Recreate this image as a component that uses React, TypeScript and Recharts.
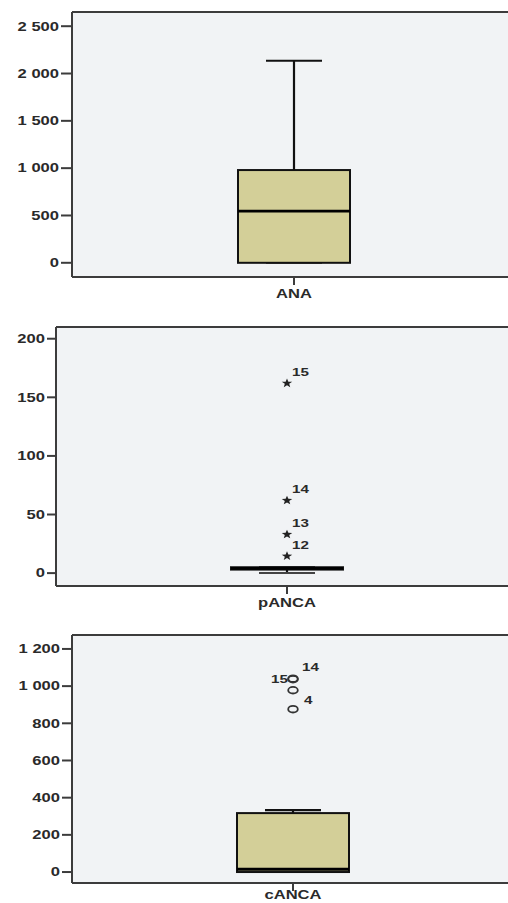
import React from "react";
import { Bar, CartesianGrid, ComposedChart, ReferenceLine, Scatter, XAxis, YAxis } from "recharts";

// box statistics (whisker low, Q1, median, Q3, whisker high)
const anaBox = [{ name: "ANA", lo: 0, q1: 0, med: 547, q3: 980, hi: 2135 }];
const anaOutliers: { name: string; v: number; id: string }[] = [];
const anaTicks = [0, 500, 1000, 1500, 2000, 2500];

const pancaBox = [{ name: "pANCA", lo: 0, q1: 3, med: 4, q3: 5, hi: 5 }];
const pancaOutliers = [
  { name: "pANCA", v: 162, id: "15" },
  { name: "pANCA", v: 62, id: "14" },
  { name: "pANCA", v: 33, id: "13" },
  { name: "pANCA", v: 14.5, id: "12" },
];
const pancaTicks = [0, 50, 100, 150, 200];

const cancaBox = [{ name: "cANCA", lo: 0, q1: 0, med: 15, q3: 317, hi: 333 }];
const cancaOutliers = [
  { name: "cANCA", v: 1040, id: "14" },
  { name: "cANCA", v: 1037, id: "15" },
  { name: "cANCA", v: 978, id: "" },
  { name: "cANCA", v: 876, id: "4" },
];
const cancaTicks = [0, 200, 400, 600, 800, 1000, 1200];

const FONT = "'Liberation Sans', Arial, sans-serif";
const TXT = "#2a2a2a";
const AXIS = "#3c3c3c";
const STRETCH = 1.38;

const fmt = (v: number) => String(v).replace(/\B(?=(\d{3})+(?!\d))/g, " ");

function YTick({ x, y, payload }: any) {
  return (
    <text transform={`translate(${x},${y}) scale(${STRETCH},1)`} textAnchor="end" dy="0.36em" fontFamily={FONT} fontWeight="bold" fontSize={12} fill={TXT}>
      {fmt(payload.value)}
    </text>
  );
}

// y here is the axis tick end; baseline placed `base` px below it
function XTick({ x, y, payload, base }: any) {
  return (
    <text transform={`translate(${x},${y + base}) scale(${STRETCH},1)`} textAnchor="middle" fontFamily={FONT} fontWeight="bold" fontSize={12} fill={TXT}>
      {payload.value}
    </text>
  );
}

function BoxShape(props: any) {
  const { x, y, width, height, payload } = props;
  const { lo, q1, med, q3, hi } = payload;
  const top = Math.min(y, y + height);
  const h = Math.abs(height);
  const py = (v: number) => top + ((hi - v) / (hi - lo)) * h;
  const cx = x + width / 2;
  const cap = width / 4;
  return (
    <g>
      <line x1={cx} x2={cx} y1={py(hi)} y2={py(q3)} stroke="#111" strokeWidth={2.2} />
      <line x1={cx} x2={cx} y1={py(q1)} y2={py(lo)} stroke="#111" strokeWidth={2.2} />
      <line x1={cx - cap} x2={cx + cap} y1={py(hi)} y2={py(hi)} stroke="#111" strokeWidth={2.2} />
      <line x1={cx - cap} x2={cx + cap} y1={py(lo)} y2={py(lo)} stroke="#444" strokeWidth={2} />
      <rect x={x} y={py(q3)} width={width} height={Math.max(py(q1) - py(q3), 0.5)} fill="#d3cf98" stroke="#111" strokeWidth={2} />
      <line x1={x} x2={x + width} y1={py(med)} y2={py(med)} stroke="#000" strokeWidth={2.8} />
    </g>
  );
}

const labelPlace: Record<string, { dx: number; dy: number; anchor: string }> = {
  star: { dx: 5, dy: -7, anchor: "start" },
  "14": { dx: 9, dy: -8, anchor: "start" },
  "15": { dx: -5, dy: 4, anchor: "end" },
  "4": { dx: 11, dy: -5, anchor: "start" },
};

function starPath(cx: number, cy: number, r: number, ri: number) {
  let d = "";
  for (let i = 0; i < 10; i++) {
    const a = -Math.PI / 2 + (i * Math.PI) / 5;
    const rr = i % 2 === 0 ? r : ri;
    d += `${i === 0 ? "M" : "L"}${cx + rr * Math.cos(a) * 1.15},${cy + rr * Math.sin(a)}`;
  }
  return d + "Z";
}

function Label({ px, py, text, anchor }: { px: number; py: number; text: string; anchor: string }) {
  return (
    <text transform={`translate(${px},${py}) scale(${STRETCH},1)`} textAnchor={anchor} fontFamily={FONT} fontWeight="bold" fontSize={11} fill={TXT}>
      {text}
    </text>
  );
}

function StarShape({ cx, cy, payload }: any) {
  const p = labelPlace.star;
  return (
    <g>
      <path d={starPath(cx, cy, 4.8, 2)} fill="#222" />
      {payload.id && <Label px={cx + p.dx} py={cy + p.dy} text={payload.id} anchor={p.anchor} />}
    </g>
  );
}

function CircleShape({ cx, cy, payload }: any) {
  const p = labelPlace[payload.id];
  return (
    <g>
      <ellipse cx={cx} cy={cy} rx={4.8} ry={3.3} fill="none" stroke="#333" strokeWidth={1.8} />
      {payload.id && p && <Label px={cx + p.dx} py={cy + p.dy} text={payload.id} anchor={p.anchor} />}
    </g>
  );
}

type PanelProps = {
  top: number;
  height: number;
  margin: { top: number; right: number; left: number; bottom: number };
  yWidth: number;
  tickSize: number;
  labelBase: number;
  domain: [number, number];
  ticks: number[];
  box: any[];
  outliers: any[];
  shape: any;
};

function Panel({ top, height, margin, yWidth, tickSize, labelBase, domain, ticks, box, outliers, shape }: PanelProps) {
  return (
    <div style={{ position: "absolute", left: 0, top }}>
      <ComposedChart width={560} height={height} data={box} margin={margin}>
        <CartesianGrid fill="#f1f3f5" stroke="none" />
        <XAxis dataKey="name" type="category" allowDuplicatedCategory={false} height={30} tickSize={8} tickMargin={0} tickLine={{ stroke: AXIS, strokeWidth: 2 }} axisLine={{ stroke: AXIS, strokeWidth: 2 }} tick={<XTick base={labelBase} />} />
        <YAxis type="number" domain={domain} ticks={ticks} allowDataOverflow width={yWidth} tickSize={tickSize} tickMargin={2} tickLine={{ stroke: AXIS, strokeWidth: 2 }} axisLine={{ stroke: AXIS, strokeWidth: 2 }} tick={<YTick />} />
        <ReferenceLine y={domain[1]} stroke={AXIS} strokeWidth={2} />
        <Bar dataKey={(d: any) => [d.lo, d.hi]} barSize={112} shape={<BoxShape />} isAnimationActive={false} />
        <Scatter data={outliers} dataKey="v" shape={shape} isAnimationActive={false} />
      </ComposedChart>
    </div>
  );
}

export default function App() {
  return (
    <div style={{ position: "fixed", left: 0, top: 0, width: 508, height: 903, overflow: "hidden", background: "#fff" }}>
      <Panel top={0} height={307} margin={{ top: 12, right: 44, left: 12, bottom: 0 }} yWidth={60} tickSize={11} labelBase={13} domain={[-150, 2650]} ticks={anaTicks} box={anaBox} outliers={anaOutliers} shape={<CircleShape />} />
      <Panel top={300} height={316} margin={{ top: 27, right: 42, left: 6, bottom: 0 }} yWidth={50} tickSize={9} labelBase={13} domain={[-11, 210]} ticks={pancaTicks} box={pancaBox} outliers={pancaOutliers} shape={<StarShape />} />
      <Panel top={610} height={303} margin={{ top: 25, right: 46, left: 12, bottom: 0 }} yWidth={60} tickSize={10} labelBase={8} domain={[-59, 1275]} ticks={cancaTicks} box={cancaBox} outliers={cancaOutliers} shape={<CircleShape />} />
    </div>
  );
}
